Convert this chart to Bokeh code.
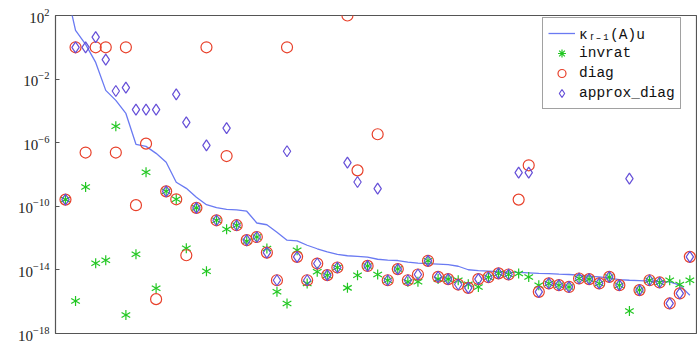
import numpy as np
from bokeh.plotting import figure
from bokeh.models import Range1d, FixedTicker, Legend, LegendItem, ColumnDataSource
from bokeh.embed import file_html
from bokeh.resources import INLINE

# sample index (x)
idx = list(range(63))

# values, as log10 of the plotted quantity
kappa_log10 = [3.88, 1.06, 0.18, -0.95, -2.71, -3.34, -4.16, -6.10, -6.23, -6.67,
               -7.23, -8.49, -8.87, -9.43, -9.90, -10.09, -10.19, -10.22, -10.31, -11.05,
               -11.16, -11.63, -12.13, -12.18, -12.45, -12.67, -12.86, -13.03, -13.11, -13.15,
               -13.20, -13.33, -13.38, -13.41, -13.51, -13.58, -13.61, -13.64, -13.67, -13.77,
               -13.99, -14.05, -14.08, -14.11, -14.14, -14.16, -14.19, -14.22, -14.24, -14.27,
               -14.29, -14.33, -14.39, -14.44, -14.52, -14.61, -14.65, -14.68, -14.71, -14.73,
               -14.75, -14.96, -15.59]

invrat_log10 = [-9.58, -15.96, -8.79, -13.58, -13.39, -4.97, -16.84, -13.01, -7.86, -15.15,
                -9.06, -9.56, -12.64, -10.10, -14.08, -10.88, -11.44, -11.19, -12.20, -11.93,
                -12.65, -15.38, -16.11, -12.76, -14.85, -14.12, -14.33, -13.85, -15.13, -14.33,
                -13.75, -14.29, -14.65, -13.95, -14.75, -14.75, -13.43, -14.58, -14.58, -14.65,
                -14.90, -15.07, -14.46, -14.22, -14.29, -14.22, -14.44, -14.96, -14.85, -14.96,
                -15.07, -14.54, -14.58, -14.85, -14.44, -14.96, -16.59, -15.27, -14.65, -14.79,
                -14.65, -14.92, -14.65]

diag_log10 = [-9.58, 0.00, -6.62, 0.00, 0.00, -6.62, 0.00, -9.93, -6.06, -15.84,
              -9.06, -9.56, -13.08, -10.10, 0.00, -10.88, -6.84, -11.19, -12.13, -11.93,
              -12.91, -14.65, 0.00, -13.18, -14.65, -13.60, -14.33, -13.85, 2.00, -7.74,
              -13.75, -5.47, -14.65, -13.95, -14.65, -14.29, -13.43, -14.44, -14.58, -14.92,
              -15.13, -14.58, -14.46, -14.22, -14.29, -9.58, -7.42, -15.38, -14.85, -14.96,
              -15.07, -14.54, -14.58, -14.85, -14.44, -14.96, 0.00, -15.27, -14.65, -14.79,
              -16.11, -15.48, -13.18]

approx_diag_log10 = [-9.58, 0.00, 0.00, 0.64, -0.78, -2.75, -2.54, -3.92, -3.92, -3.92,
                     -9.06, -2.96, -4.72, -10.10, -6.17, -10.88, -5.08, -11.19, -12.13, -11.93,
                     -12.91, -14.65, -6.54, -13.18, -14.65, -13.60, -14.33, -13.85, -7.25, -8.47,
                     -13.75, -8.89, -14.65, -13.95, -14.65, -14.29, -13.43, -14.44, -14.58, -14.92,
                     -15.13, -14.58, -14.46, -14.22, -14.29, -7.88, -7.88, -15.38, -14.85, -14.96,
                     -15.07, -14.54, -14.58, -14.85, -14.44, -14.96, -8.26, -15.27, -14.65, -14.79,
                     -16.11, -15.48, -13.18]

y_ticks = [1e2, 1e-2, 1e-6, 1e-10, 1e-14, 1e-18]

src = ColumnDataSource(dict(
    x=idx,
    kappa=10.0 ** np.array(kappa_log10),
    invrat=10.0 ** np.array(invrat_log10),
    diag=10.0 ** np.array(diag_log10),
    approx=10.0 ** np.array(approx_diag_log10),
))
# legend-only proxy point, placed outside the visible range
proxy = ColumnDataSource(dict(x=[-5], y=[1e-30]))

BLUE = "#6a7af2"
GREEN = "#22c722"
RED = "#e8402a"
VIOLET = "#6650d8"
FRAME = "#555555"

p = figure(width=697, height=342, y_axis_type="log",
           x_range=Range1d(-0.99, 62.76), y_range=Range1d(1e-18, 1e2),
           output_backend="svg", toolbar_location=None, x_axis_location=None,
           min_border_left=55, min_border_right=0, min_border_top=15, min_border_bottom=9)
p.grid.visible = False
p.outline_line_color = FRAME
p.outline_line_width = 1.2
p.background_fill_color = "white"
p.border_fill_color = "white"

ax = p.yaxis[0]
ax.ticker = FixedTicker(ticks=y_ticks, minor_ticks=[])
ax.axis_line_color = None
ax.major_tick_in = 4
ax.major_tick_out = 0
ax.major_tick_line_color = FRAME
ax.minor_tick_line_color = None
ax.major_label_text_font = "Liberation Serif"
ax.major_label_text_font_size = "15px"
ax.major_label_text_color = "#222222"
ax.major_label_standoff = 6

r_line = p.line("x", "kappa", source=src, line_color=BLUE, line_width=1.3)
r_s1 = p.scatter("x", "invrat", source=src, marker="dash", size=10, angle=np.pi / 2,
                 line_color=GREEN, line_width=1.2)
r_s2 = p.scatter("x", "invrat", source=src, marker="dash", size=10, angle=np.pi / 6,
                 line_color=GREEN, line_width=1.2)
r_s3 = p.scatter("x", "invrat", source=src, marker="dash", size=10, angle=-np.pi / 6,
                 line_color=GREEN, line_width=1.2)
r_c = p.scatter("x", "diag", source=src, marker="circle", size=11, fill_color=None,
                line_color=RED, line_width=1.2)
r_d = p.scatter("x", "approx", source=src, marker="diamond", size=11, fill_color=None,
                line_color=VIOLET, line_width=1.2)
r_s_leg = p.scatter("x", "y", source=proxy, marker="asterisk", size=10,
                    line_color=GREEN, line_width=1.2)

legend = Legend(items=[
    LegendItem(label="\u03ba\u1d63\u208b\u2081(A)u", renderers=[r_line]),
    LegendItem(label="invrat", renderers=[r_s_leg]),
    LegendItem(label="diag", renderers=[r_c]),
    LegendItem(label="approx_diag", renderers=[r_d]),
], location=(487, 224), margin=0, padding=5, spacing=0,
    glyph_width=27, glyph_height=20, label_height=20, label_standoff=4,
    label_text_font="Liberation Mono", label_text_font_size="14.5px",
    label_text_color="#111111",
    border_line_color="#444444", border_line_width=1,
    background_fill_color="white", background_fill_alpha=1.0)
p.add_layout(legend, "center")

open("out.html", "w").write(file_html(p, INLINE))
